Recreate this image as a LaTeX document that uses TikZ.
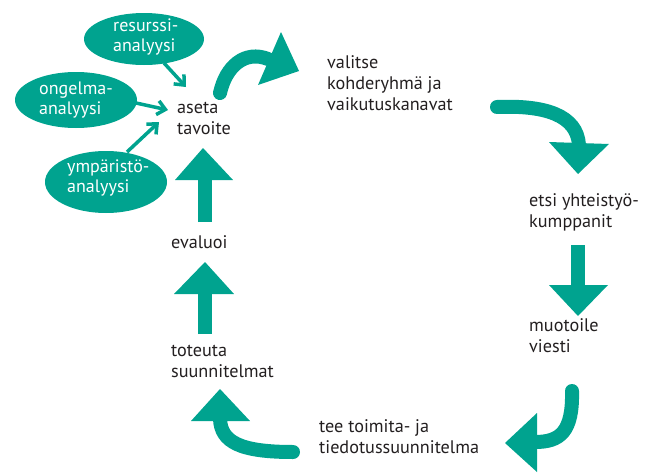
\documentclass[tikz,border=0pt]{standalone}
\usepackage{fontspec}
\setmainfont{PT Sans}
\usetikzlibrary{arrows.meta}
\definecolor{teal1}{RGB}{0,163,143}
\definecolor{txt}{RGB}{35,31,32}
\tikzset{
  lbl/.style={anchor=west, align=left, text=txt, font=\fontsize{18.2}{21}\selectfont, inner sep=0pt},
  bloblbl/.style={anchor=west, align=left, text=white, font=\fontsize{18}{20}\selectfont, inner sep=0pt},
  shaft/.style={draw=teal1, line width=14pt},
  head/.style={fill=teal1},
  thin/.style={draw=teal1, line width=3.5pt, -{Straight Barb[length=8pt,width=14pt]}}
}
\begin{document}
\begin{tikzpicture}[x=1pt,y=-1pt]
\useasboundingbox (0,0) rectangle (646,474);
% ellipses
\fill[teal1] (144,39) ellipse [x radius=60, y radius=26];
\fill[teal1] (76,100) ellipse [x radius=61, y radius=28];
\fill[teal1] (106,182) ellipse [x radius=61, y radius=31];
\node[bloblbl] (res) at (113,37) {resurssi-\\analyysi};
\node[bloblbl] (ong) at (39,100) {ongelma-\\analyysi};
\node[bloblbl] (ymp) at (67,178) {ympäristö-\\analyysi};
% labels
\node[lbl] (aseta) at (177,118) {aseta\\tavoite};
\node[lbl] (valitse) at (327,83) {valitse\\kohderyhmä ja\\vaikutuskanavat};
\node[lbl] (etsi) at (529,212) {etsi yhteistyö-\\kumppanit};
\node[lbl] (muot) at (529,336) {muotoile\\viesti};
\node[lbl] (tee) at (319,437) {tee toimita- ja\\tiedotussuunnitelma};
\node[lbl] (tot) at (171,361) {toteuta\\suunnitelmat};
\node[lbl] (eval) at (171,242) {evaluoi};
% thin arrows
\coordinate (r0) at (164,63); \coordinate (r1) at (186,87);
\coordinate (o0) at (136,103); \coordinate (o1) at (168,110);
\coordinate (y0) at (127,152); \coordinate (y1) at (159,122);
\draw[thin] (r0) -- (r1);
\draw[thin] (o0) -- (o1);
\draw[thin] (y0) -- (y1);
% big arrow 1
\draw[shaft, line cap=round] (220,93) .. controls (226,66) and (245,50) .. (268,59);
\fill[head] (281,32) -- (299,71) -- (258,85) -- cycle;
% big arrow 2
\draw[shaft, line cap=round] (497,107) .. controls (545,105) and (577,115) .. (579,145);
\fill[head] (549,142) -- (609,144) -- (578,174) -- cycle;
% big arrow 3
\draw[shaft] (578,245) -- (578,287);
\fill[head] (549,285) -- (608,285) -- (578,316) -- cycle;
% big arrow 4
\draw[shaft, line cap=round] (572,391) .. controls (573,432) and (560,442) .. (535,442);
\fill[head] (537,413) -- (537,472) -- (505,443) -- cycle;
% big arrow 5
\draw[shaft, line cap=round] (293,452) .. controls (240,452) and (221,442) .. (220,419);
\fill[head] (191,421) -- (250,421) -- (220,389) -- cycle;
% big arrow 6
\draw[shaft] (205,334) -- (205,292);
\fill[head] (174,294) -- (234,294) -- (205,262) -- cycle;
% big arrow 7
\draw[shaft] (205,222) -- (205,178);
\fill[head] (175,180) -- (233,180) -- (203,148) -- cycle;
\end{tikzpicture}
\end{document}
